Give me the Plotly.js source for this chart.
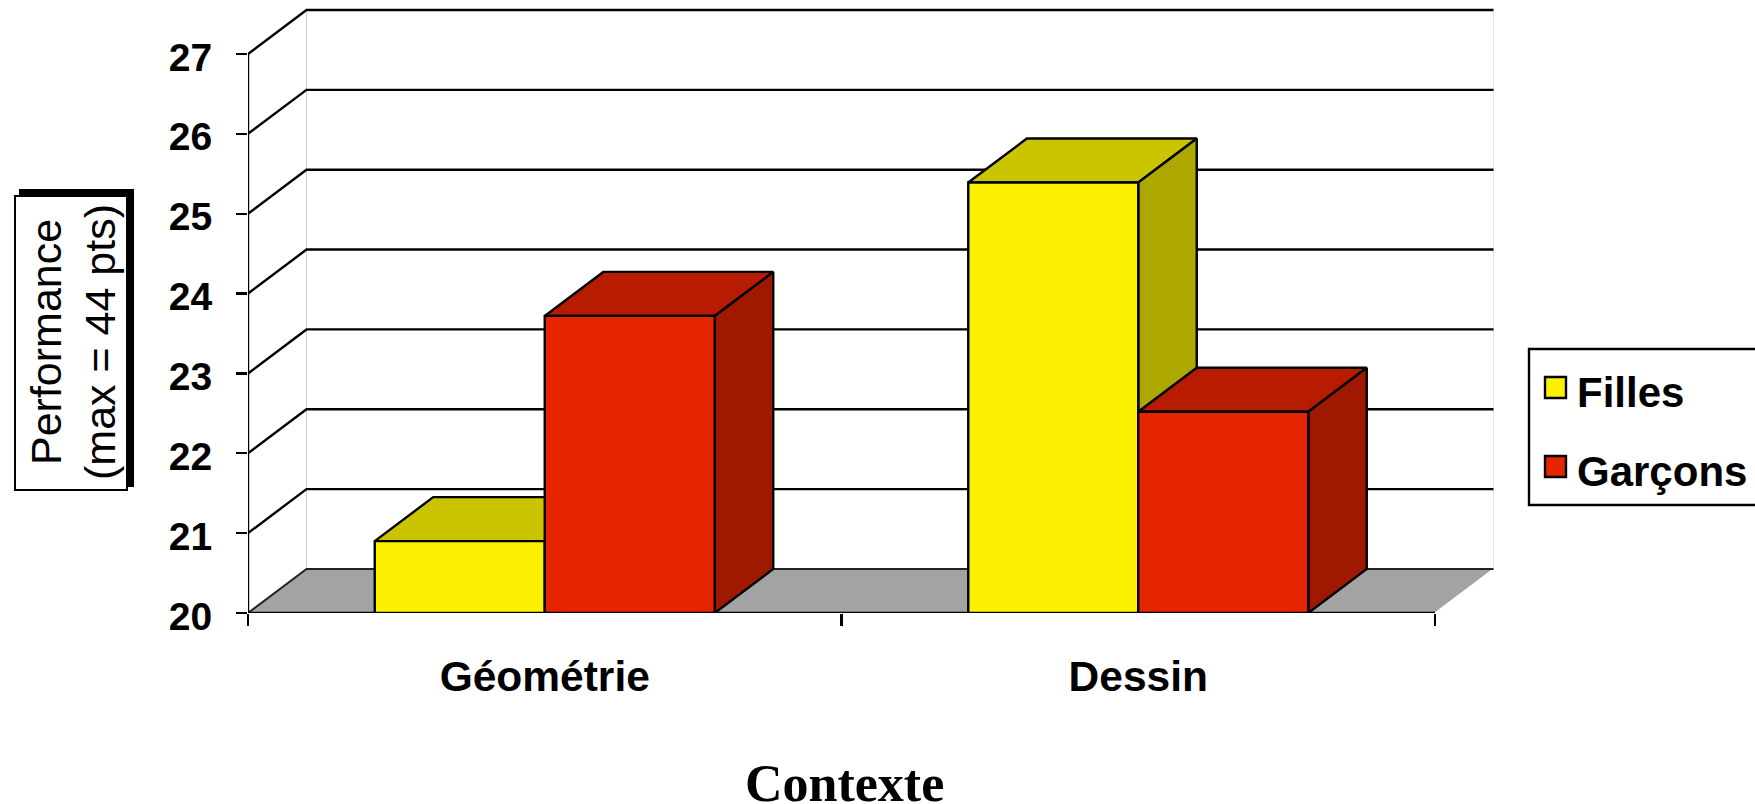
<!DOCTYPE html>
<html>
<head>
<meta charset="utf-8">
<script src="https://cdn.plot.ly/plotly-3.0.1.min.js"></script>
<style>html,body{margin:0;padding:0;background:#fff;overflow:hidden}</style>
</head>
<body>
<div id="chart" style="width:1755px;height:804px"></div>
<script>
var categories = ['Géométrie', 'Dessin'];
var seriesNames = ['Filles', 'Garçons'];
var filles = [20.90, 25.39];
var garcons = [23.72, 22.52];
var yTicks = [20, 21, 22, 23, 24, 25, 26, 27];
var yTitleLines = ['Performance', '(max = 44 pts)'];

var frontColors = ['#FBF000', '#E52400'];
var topColors = ['#CBC400', '#B81C00'];
var sideColors = ['#ADA800', '#9F1800'];

// plot-area pixels
var L = 248, R = 1495, T = 8, B = 613, W = 1755, H = 804;
var xUnit = 593.5, yUnit = 79.86;
var depthX = 58.5 / xUnit, depthY = 44 / yUnit;
var barW = 170 / xUnit;
var BASE = 20;

function px(x) { return (x - L) / (R - L); }
function py(y) { return (B - y) / (B - T); }

function poly(xs, ys, fill) {
  return { type: 'scatter', mode: 'lines', x: xs, y: ys, fill: 'toself', fillcolor: fill, cliponaxis: false,
    line: { color: '#000', width: 2.4, shape: 'linear' }, hoverinfo: 'skip', showlegend: false };
}
function lines(xs, ys, color, width) {
  return { type: 'scatter', mode: 'lines', x: xs, y: ys, cliponaxis: false, line: { color: color, width: width },
    hoverinfo: 'skip', showlegend: false };
}
function bar3d(x0, v, s, name) {
  var x1 = x0 + barW, dx = depthX, dy = depthY;
  var front = poly([x0, x1, x1, x0, x0], [BASE, BASE, v, v, BASE], frontColors[s]);
  front.name = name;
  return [
    poly([x0, x1, x1 + dx, x0 + dx, x0], [v, v, v + dy, v + dy, v], topColors[s]),
    poly([x1, x1 + dx, x1 + dx, x1, x1], [BASE, BASE + dy, v + dy, v, BASE], sideColors[s]),
    front
  ];
}

var traces = [];
// floor
traces.push(Object.assign(poly([0, 2, 2 + depthX, depthX, 0], [BASE, BASE, BASE + depthY, BASE + depthY, BASE], '#A3A3A3'), { line: { width: 0, color: '#A3A3A3' } }));
// back wall edges (faint)
traces.push(lines([depthX, depthX], [BASE + depthY, 27 + depthY], '#CFCFCF', 1));
traces.push(lines([2 + depthX, 2 + depthX], [BASE + depthY, 27 + depthY], '#E4E4E4', 1));
traces.push(lines([2 + depthX + 0.005, 2 + depthX + 0.005], [BASE + depthY, 27 + depthY], '#E4E4E4', 1));
// gridlines and side wall diagonals, from the y ticks
var gx = [], gy = [];
yTicks.forEach(function (v) {
  gx.push(0, depthX, 2 + depthX, null);
  gy.push(v, v + depthY, v + depthY, null);
});
traces.push(lines(gx.slice(4), gy.slice(4), '#000', 2.4));
traces.push(lines([2, 2 + depthX], [BASE, BASE + depthY], '#FFFFFF', 1.5));
traces.push(lines([0, depthX, 2 + depthX], [BASE, BASE + depthY, BASE + depthY], '#222', 2));
// y axis line and floor front edge
traces.push(lines([0, 0], [20, 27], '#000', 2.4));
traces.push(lines([0, 2], [20, 20], '#000', 2.4));

// bars, painted back to front / left to right
categories.forEach(function (c, i) {
  var mid = i + 0.5;
  bar3d(mid - barW, filles[i], 0, seriesNames[0] + ' ' + c).forEach(function (t) { traces.push(t); });
  bar3d(mid, garcons[i], 1, seriesNames[1] + ' ' + c).forEach(function (t) { traces.push(t); });
});

var shapes = [
  { type: 'rect', xref: 'paper', yref: 'paper', x0: px(19), x1: px(134), y0: py(487), y1: py(189), fillcolor: '#000', line: { width: 0 }, layer: 'below' },
  { type: 'rect', xref: 'paper', yref: 'paper', x0: px(15), x1: px(127), y0: py(490), y1: py(196), fillcolor: '#fff', line: { color: '#000', width: 2 }, layer: 'below' },
  { type: 'rect', xref: 'paper', yref: 'paper', x0: px(1529), x1: px(1760), y0: py(505), y1: py(349), fillcolor: '#fff', line: { color: '#000', width: 2.4 }, layer: 'below' }
];
var legendRows = [387.5, 466.5];
var yTitleCenters = [46, 100];
var annotations = [
  { xref: 'paper', yref: 'paper', x: px(844), y: py(783), text: 'Contexte', showarrow: false,
    xanchor: 'center', yanchor: 'middle', font: { family: 'Liberation Serif', size: 52, weight: 700, color: '#000' } }
];
yTitleLines.forEach(function (t, i) {
  annotations.push({ xref: 'paper', yref: 'paper', x: px(yTitleCenters[i]), y: py(342), text: t, textangle: -90, showarrow: false,
    xanchor: 'center', yanchor: 'middle', font: { family: 'Liberation Sans', size: 43, color: '#000' } });
});
seriesNames.forEach(function (n, s) {
  shapes.push({ type: 'rect', xref: 'paper', yref: 'paper', x0: px(1545), x1: px(1566), y0: py(legendRows[s] + 10.5), y1: py(legendRows[s] - 10.5),
    fillcolor: frontColors[s], line: { color: '#000', width: 2.4 }, layer: 'below' });
  annotations.push({ xref: 'paper', yref: 'paper', x: px(1575), y: py(legendRows[s] + 5), text: n, showarrow: false, xanchor: 'left', yanchor: 'middle',
    font: { family: 'Liberation Sans', size: 42, weight: 700, color: '#000' } });
});

var layout = {
  width: W, height: H,
  margin: { l: L, r: W - R, t: T, b: H - B, pad: 0 },
  paper_bgcolor: '#fff', plot_bgcolor: 'rgba(0,0,0,0)',
  showlegend: false,
  xaxis: {
    range: [0, (R - L) / xUnit], fixedrange: true, showgrid: false, zeroline: false, showline: false,
    tickmode: 'array', tickvals: categories.map(function (c, i) { return i + 0.5; }), ticktext: categories,
    ticks: '', ticklabelstandoff: 34,
    tickfont: { family: 'Liberation Sans', size: 42.5, weight: 700, color: '#000' },
    minor: { tickmode: 'array', tickvals: [0, 1, 2], ticks: 'outside', ticklen: 12, tickwidth: 2.4, tickcolor: '#000', showgrid: false }
  },
  yaxis: {
    range: [20, 20 + (B - T) / yUnit], fixedrange: true, showgrid: false, zeroline: false, showline: false,
    tickmode: 'array', tickvals: yTicks, ticktext: yTicks.map(String),
    ticks: 'outside', ticklen: 11, tickwidth: 2.4, tickcolor: '#000', ticklabelstandoff: 16, ticklabelshift: 3,
    tickfont: { family: 'Liberation Sans', size: 39, weight: 700, color: '#000' }
  },
  shapes: shapes,
  annotations: annotations
};
Plotly.newPlot('chart', traces, layout, { displayModeBar: false, staticPlot: true });
</script>
</body>
</html>
